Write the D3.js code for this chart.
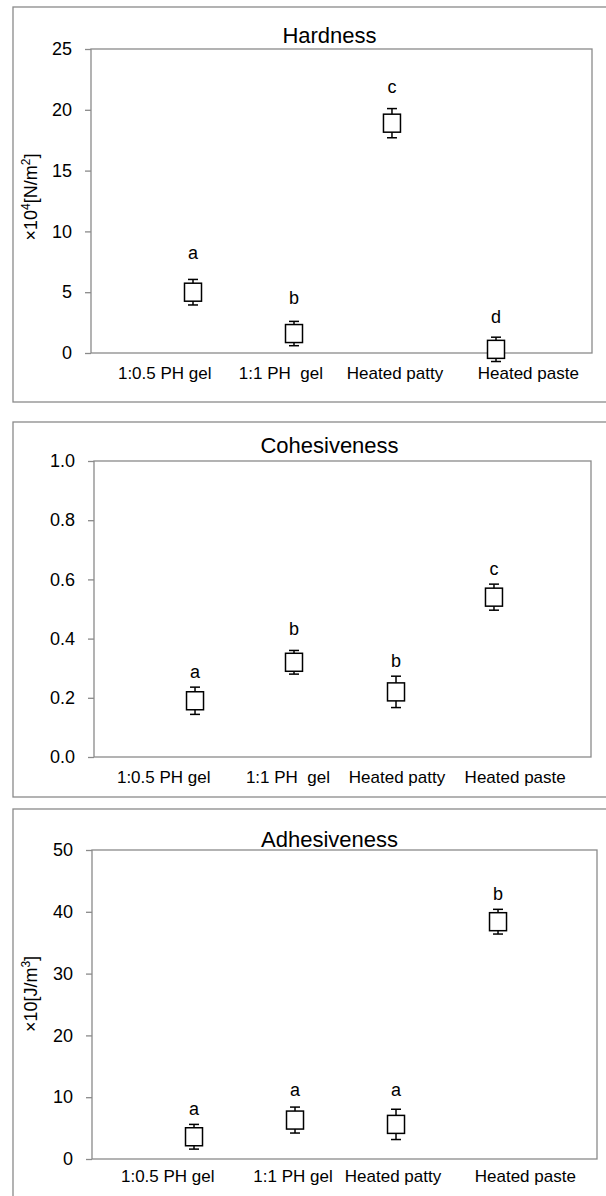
<!DOCTYPE html>
<html>
<head>
<meta charset="utf-8">
<script src="https://cdn.jsdelivr.net/npm/d3@7"></script>
<style>
  body { margin: 0; background: #fff; }
  svg text { font-family: "Liberation Sans", Arial, sans-serif; fill: #000; }
</style>
</head>
<body>
<div id="plot"></div>
<script>
// Categories (the adhesiveness panel writes the 2nd one with a single space)
const categories = ["1:0.5 PH gel", "1:1 PH  gel", "Heated patty", "Heated paste"];
const categoriesAdh = ["1:0.5 PH gel", "1:1 PH gel", "Heated patty", "Heated paste"];

// Hardness, x10^4 N/m2
const hardnessMean = [5.0, 1.6, 18.9, 0.3];
const hardnessSD = [1.05, 1.0, 1.2, 1.0];
const hardnessGroup = ["a", "b", "c", "d"];
const hardnessTicks = [0, 5, 10, 15, 20, 25];

// Cohesiveness
const cohesivenessMean = [0.19, 0.32, 0.22, 0.54];
const cohesivenessSD = [0.046, 0.04, 0.053, 0.044];
const cohesivenessGroup = ["a", "b", "b", "c"];
const cohesivenessTicks = [0, 0.2, 0.4, 0.6, 0.8, 1.0];

// Adhesiveness, x10 J/m3
const adhesivenessMean = [3.6, 6.3, 5.6, 38.4];
const adhesivenessSD = [2.0, 2.1, 2.45, 2.0];
const adhesivenessGroup = ["a", "a", "a", "b"];
const adhesivenessTicks = [0, 10, 20, 30, 40, 50];

const W = 606, H = 1196;
const grey = "#8a8a8a";

const svg = d3.select("#plot").append("svg")
  .attr("width", W)
  .attr("height", H);

// shared x position scale (category slots 1..4)
const x = d3.scaleLinear().domain([1, 4]).range([193, 496]);

// layout of each panel
const panels = [
  {
    title: "Hardness", yTitle: ["×10", "4", "[N/m", "2", "]"],
    labels: categories, mean: hardnessMean, sd: hardnessSD, group: hardnessGroup,
    ticks: hardnessTicks, fmt: d3.format("d"), domain: [0, 25],
    frame: { top: 7, bottom: 402 }, left: 91, right: 592, top: 49, bottom: 353,
    titleY: 43, labelY: 379, yTitleY: 197,
    labelAt: [0.72, 1.87, 3.0, 4.32], letterAt: [7.7, 4.0, 21.4, 2.5], markAt: [1, 2, 2.97, 4]
  },
  {
    title: "Cohesiveness", yTitle: null,
    labels: categories, mean: cohesivenessMean, sd: cohesivenessSD, group: cohesivenessGroup,
    ticks: cohesivenessTicks, fmt: d3.format(".1f"), domain: [0, 1],
    frame: { top: 422, bottom: 797 }, left: 94, right: 591, top: 461, bottom: 757,
    titleY: 453, labelY: 783, yTitleY: 0,
    labelAt: [0.71, 1.94, 3.02, 4.19], letterAt: [0.267, 0.412, 0.304, 0.615], markAt: [1.02, 2.0, 3.01, 3.98]
  },
  {
    title: "Adhesiveness", yTitle: ["×10[J/m", "3", "]"],
    labels: categoriesAdh, mean: adhesivenessMean, sd: adhesivenessSD, group: adhesivenessGroup,
    ticks: adhesivenessTicks, fmt: d3.format("d"), domain: [0, 50],
    frame: { top: 809, bottom: 1210 }, left: 92, right: 597, top: 850, bottom: 1159,
    titleY: 847, labelY: 1182, yTitleY: 994,
    labelAt: [0.75, 1.99, 2.98, 4.29], letterAt: [7.1, 10.2, 10.2, 41.9], markAt: [1.01, 2.01, 3.01, 4.02]
  }
];

panels.forEach(p => {
  const g = svg.append("g");

  // outer frame (runs off the right edge)
  g.append("rect")
    .attr("x", 13).attr("y", p.frame.top)
    .attr("width", W + 10).attr("height", p.frame.bottom - p.frame.top)
    .attr("fill", "none").attr("stroke", grey).attr("stroke-width", 1.3);

  const y = d3.scaleLinear().domain(p.domain).range([p.bottom, p.top]);

  // plot area border
  g.append("rect")
    .attr("x", p.left).attr("y", p.top)
    .attr("width", p.right - p.left).attr("height", p.bottom - p.top)
    .attr("fill", "none").attr("stroke", grey).attr("stroke-width", 1.3);

  // y axis
  const ax = g.append("g")
    .attr("transform", `translate(${p.left},0)`)
    .call(d3.axisLeft(y).tickValues(p.ticks).tickFormat(p.fmt).tickSize(6).tickPadding(13));
  ax.select(".domain").remove();
  ax.selectAll(".tick line").attr("stroke", grey).attr("stroke-width", 1.3);
  ax.selectAll(".tick text")
    .style("font-family", "'Liberation Sans', Arial, sans-serif")
    .style("font-size", "18px").attr("fill", "#000");

  // title
  g.append("text")
    .attr("x", (x(1) + x(4)) / 2 - 15).attr("y", p.titleY)
    .attr("text-anchor", "middle")
    .style("font-size", "22px")
    .text(p.title);

  // y axis title
  if (p.yTitle) {
    const t = g.append("text")
      .attr("transform", `translate(37,${p.yTitleY}) rotate(-90)`)
      .attr("text-anchor", "middle")
      .style("font-size", "18px");
    p.yTitle.forEach((s, i) => {
      const sup = /^\d$/.test(s);
      t.append("tspan")
        .attr("baseline-shift", sup ? "super" : null)
        .style("font-size", sup ? "12px" : null)
        .text(s);
    });
  }

  // category labels
  g.selectAll(".cat")
    .data(p.labels)
    .join("text")
    .attr("class", "cat")
    .attr("x", (d, i) => x(p.labelAt[i]))
    .attr("y", p.labelY)
    .attr("text-anchor", "middle")
    .style("font-size", "17px")
    .style("white-space", "pre")
    .text(d => d);

  const pts = p.mean.map((m, i) => ({ m, s: p.sd[i], g: p.group[i], cx: x(p.markAt[i]), ly: p.letterAt[i] }));

  // error bars
  const eb = g.selectAll(".err").data(pts).join("g").attr("class", "err")
    .attr("stroke", "#000").attr("stroke-width", 1.5);
  eb.append("line")
    .attr("x1", d => d.cx).attr("x2", d => d.cx)
    .attr("y1", d => y(d.m + d.s)).attr("y2", d => y(d.m - d.s));
  eb.append("line")
    .attr("x1", d => d.cx - 5).attr("x2", d => d.cx + 5)
    .attr("y1", d => y(d.m + d.s)).attr("y2", d => y(d.m + d.s));
  eb.append("line")
    .attr("x1", d => d.cx - 5).attr("x2", d => d.cx + 5)
    .attr("y1", d => y(d.m - d.s)).attr("y2", d => y(d.m - d.s));

  // square markers
  g.selectAll(".mk").data(pts).join("rect")
    .attr("class", "mk")
    .attr("x", d => d.cx - 8.5).attr("y", d => y(d.m) - 9)
    .attr("width", 17).attr("height", 18)
    .attr("fill", "#fff").attr("stroke", "#000").attr("stroke-width", 1.5);

  // significance letters
  g.selectAll(".grp").data(pts).join("text")
    .attr("class", "grp")
    .attr("x", d => d.cx).attr("y", d => y(d.ly))
    .attr("text-anchor", "middle")
    .style("font-size", "18px")
    .text(d => d.g);
});
</script>
</body>
</html>
